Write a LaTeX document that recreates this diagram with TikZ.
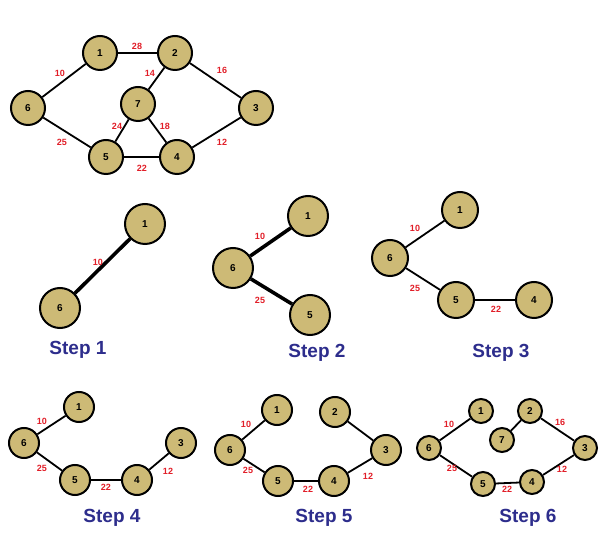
\documentclass[tikz,border=0pt]{standalone}
\usepackage{fontspec}
\setsansfont{Liberation Sans}
\definecolor{citytan}{RGB}{205,186,118}
\definecolor{costred}{RGB}{225,30,40}
\definecolor{stepblue}{RGB}{45,45,140}
\begin{document}
\begin{tikzpicture}[x=0.5pt,y=-0.5pt,city/.style={circle, draw=black, line width=1pt, fill=citytan, inner sep=0pt, font=\fontsize{5}{6}\selectfont\sffamily\bfseries},cost/.style={font=\fontsize{4.5}{5}\selectfont\sffamily\bfseries, text=costred, inner sep=1pt},step label/.style={font=\fontsize{9.5}{11}\selectfont\sffamily\bfseries, text=stepblue},road/.style={line width=0.9pt},heavy road/.style={line width=1.8pt}]%
\path[use as bounding box] (0,0) rectangle (600,550);%
  % Full graph%
\begin{scope}[every node/.append style={minimum size=17pt}]%
\node[city] (g1) at (100,53) {1};%
\node[city] (g2) at (175,53) {2};%
\node[city] (g3) at (256,108) {3};%
\node[city] (g6) at (28,108) {6};%
\node[city] (g7) at (138,104) {7};%
\node[city] (g5) at (106,157) {5};%
\node[city] (g4) at (177,157) {4};%
\end{scope}%
\draw[road] (g1) -- (g2); \draw[road] (g1) -- (g6); \draw[road] (g2) -- (g3);%
\draw[road] (g2) -- (g7); \draw[road] (g7) -- (g5); \draw[road] (g7) -- (g4);%
\draw[road] (g6) -- (g5); \draw[road] (g5) -- (g4); \draw[road] (g4) -- (g3);%
\node[cost] at (137,46) {28}; \node[cost] at (60,73) {10}; \node[cost] at (222,70) {16};%
\node[cost] at (150,73) {14}; \node[cost] at (117,126) {24}; \node[cost] at (165,126) {18};%
\node[cost] at (62,142) {25}; \node[cost] at (222,142) {12}; \node[cost] at (142,168) {22};%
  % Step 1%
\node[city, minimum size=20pt] (a1) at (145,224) {1};%
\node[city, minimum size=20pt] (a6) at (60,308) {6};%
\draw[heavy road] (a6) -- (a1);%
\node[cost] at (98,262) {10};%
\node[step label] at (78,350) {Step 1};%
  % Step 2%
\node[city, minimum size=20pt] (b1) at (308,216) {1};%
\node[city, minimum size=20pt] (b6) at (233,268) {6};%
\node[city, minimum size=20pt] (b5) at (310,315) {5};%
\draw[heavy road] (b6) -- (b1); \draw[heavy road] (b6) -- (b5);%
\node[cost] at (260,236) {10}; \node[cost] at (260,300) {25};%
\node[step label] at (317,353) {Step 2};%
  % Step 3%
\node[city, minimum size=18pt] (c1) at (460,210) {1};%
\node[city, minimum size=18pt] (c6) at (390,258) {6};%
\node[city, minimum size=18pt] (c5) at (456,300) {5};%
\node[city, minimum size=18pt] (c4) at (534,300) {4};%
\draw[road] (c6) -- (c1); \draw[road] (c6) -- (c5); \draw[road] (c5) -- (c4);%
\node[cost] at (415,228) {10}; \node[cost] at (415,288) {25}; \node[cost] at (496,309) {22};%
\node[step label] at (501,353) {Step 3};%
  % Step 4%
\node[city, minimum size=15pt] (d1) at (79,407) {1};%
\node[city, minimum size=15pt] (d6) at (24,443) {6};%
\node[city, minimum size=15pt] (d5) at (75,480) {5};%
\node[city, minimum size=15pt] (d4) at (137,480) {4};%
\node[city, minimum size=15pt] (d3) at (181,443) {3};%
\draw[road] (d6) -- (d1); \draw[road] (d6) -- (d5); \draw[road] (d5) -- (d4); \draw[road] (d4) -- (d3);%
\node[cost] at (42,421) {10}; \node[cost] at (42,468) {25}; \node[cost] at (106,487) {22}; \node[cost] at (168,471) {12};%
\node[step label] at (112,518) {Step 4};%
  % Step 5%
\node[city, minimum size=15pt] (e1) at (277,410) {1};%
\node[city, minimum size=15pt] (e2) at (335,412) {2};%
\node[city, minimum size=15pt] (e6) at (230,450) {6};%
\node[city, minimum size=15pt] (e5) at (278,481) {5};%
\node[city, minimum size=15pt] (e4) at (334,481) {4};%
\node[city, minimum size=15pt] (e3) at (386,450) {3};%
\draw[road] (e6) -- (e1); \draw[road] (e6) -- (e5); \draw[road] (e5) -- (e4);%
\draw[road] (e4) -- (e3); \draw[road] (e2) -- (e3);%
\node[cost] at (246,424) {10}; \node[cost] at (248,470) {25}; \node[cost] at (308,489) {22}; \node[cost] at (368,476) {12};%
\node[step label] at (324,518) {Step 5};%
  % Step 6%
\node[city, minimum size=12pt] (f1) at (481,411) {1};%
\node[city, minimum size=12pt] (f2) at (530,411) {2};%
\node[city, minimum size=12pt] (f7) at (502,440) {7};%
\node[city, minimum size=12pt] (f6) at (429,448) {6};%
\node[city, minimum size=12pt] (f5) at (483,484) {5};%
\node[city, minimum size=12pt] (f4) at (532,482) {4};%
\node[city, minimum size=12pt] (f3) at (585,448) {3};%
\draw[road] (f6) -- (f1); \draw[road] (f6) -- (f5); \draw[road] (f5) -- (f4);%
\draw[road] (f4) -- (f3); \draw[road] (f2) -- (f3); \draw[road] (f2) -- (f7);%
\node[cost] at (449,424) {10}; \node[cost] at (560,422) {16}; \node[cost] at (452,468) {25};%
\node[cost] at (507,489) {22}; \node[cost] at (562,469) {12};%
\node[step label] at (528,518) {Step 6};%
\end{tikzpicture}
\end{document}
